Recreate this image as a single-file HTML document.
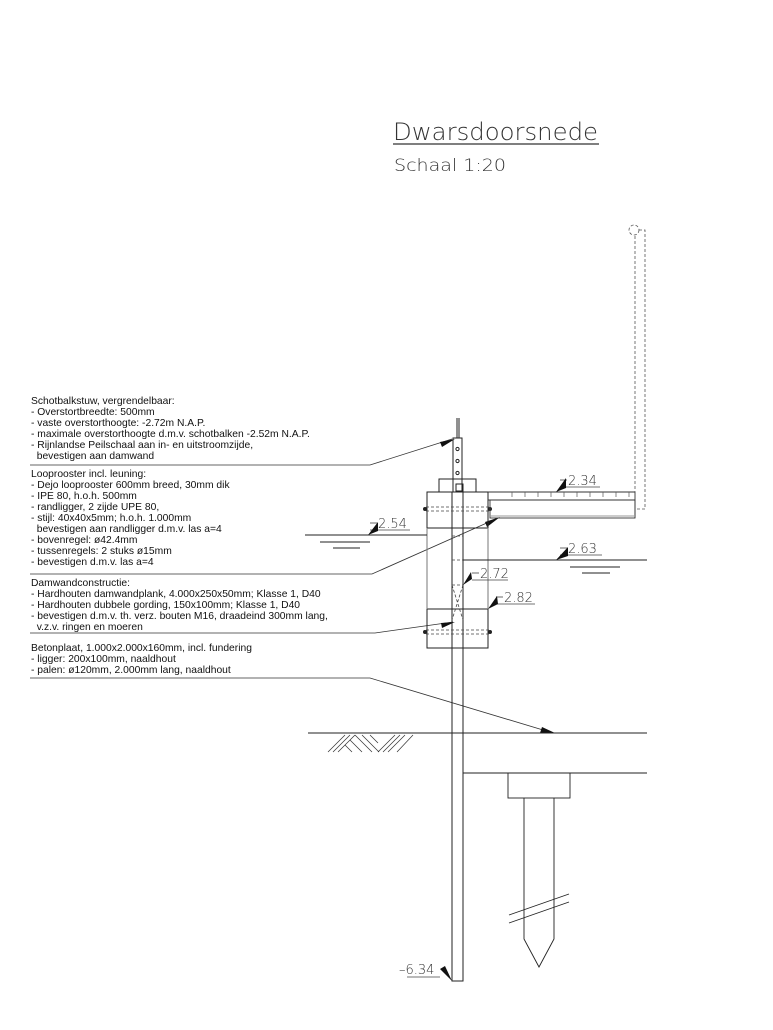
<!DOCTYPE html>
<html><head><meta charset="utf-8"><style>
html,body{margin:0;padding:0;background:#fff}
svg{display:block}
.t{font-family:"Liberation Sans",sans-serif;font-size:10.3px;fill:#111}
.c{font-family:"DejaVu Sans","Liberation Sans",sans-serif;fill:#333;font-weight:300}
</style></head><body>
<svg width="773" height="1030" viewBox="0 0 773 1030" xmlns="http://www.w3.org/2000/svg">
<text class="c" x="393" y="140" font-size="24" textLength="205" lengthAdjust="spacingAndGlyphs">Dwarsdoorsnede</text>
<line x1="393" y1="144" x2="599" y2="144" stroke="#333" stroke-width="1.2"/>
<text class="c" x="394" y="171" font-size="17" textLength="112" lengthAdjust="spacingAndGlyphs">Schaal 1:20</text>

<g class="t">
<text x="31" y="404">Schotbalkstuw, vergrendelbaar:</text>
<text x="31" y="415">- Overstortbreedte: 500mm</text>
<text x="31" y="426">- vaste overstorthoogte: -2.72m N.A.P.</text>
<text x="31" y="437">- maximale overstorthoogte d.m.v. schotbalken -2.52m N.A.P.</text>
<text x="31" y="448">- Rijnlandse Peilschaal aan in- en uitstroomzijde,</text>
<text x="31" y="459">&#160;&#160;bevestigen aan damwand</text>
<text x="31" y="477">Looprooster incl. leuning:</text>
<text x="31" y="488">- Dejo looprooster 600mm breed, 30mm dik</text>
<text x="31" y="499">- IPE 80, h.o.h. 500mm</text>
<text x="31" y="510">- randligger, 2 zijde UPE 80,</text>
<text x="31" y="521">- stijl: 40x40x5mm; h.o.h. 1.000mm</text>
<text x="31" y="532">&#160;&#160;bevestigen aan randligger d.m.v. las a=4</text>
<text x="31" y="543">- bovenregel: ø42.4mm</text>
<text x="31" y="554">- tussenregels: 2 stuks ø15mm</text>
<text x="31" y="565">- bevestigen d.m.v. las a=4</text>
<text x="31" y="586">Damwandconstructie:</text>
<text x="31" y="597">- Hardhouten damwandplank, 4.000x250x50mm; Klasse 1, D40</text>
<text x="31" y="608">- Hardhouten dubbele gording, 150x100mm; Klasse 1, D40</text>
<text x="31" y="619">- bevestigen d.m.v. th. verz. bouten M16, draadeind 300mm lang,</text>
<text x="31" y="630">&#160;&#160;v.z.v. ringen en moeren</text>
<text x="31" y="651">Betonplaat, 1.000x2.000x160mm, incl. fundering</text>
<text x="31" y="662">- ligger: 200x100mm, naaldhout</text>
<text x="31" y="673">- palen: ø120mm, 2.000mm lang, naaldhout</text>
</g>

<g fill="none" stroke="#333" stroke-width="0.8">
<polyline points="30,465 370,465 452,439"/>
<polyline points="30,574 372,574 498,518"/>
<polyline points="30,633 375,633 453,622"/>
<polyline points="30,678 370,678 553,733"/>
</g>
<g fill="#111">
<polygon points="455,439 442,447 440,442"/>
<polygon points="500,517 487,527 485,522"/>
<polygon points="455,622 442,628 441,623"/>
<polygon points="555,733 540,733 542,727"/>
</g>

<g fill="none" stroke="#222" stroke-width="1">
<rect x="452" y="492" width="11" height="489"/>
<line x1="457" y1="418" x2="457" y2="438"/>
<line x1="459" y1="418" x2="459" y2="438"/>
<rect x="453" y="438" width="9" height="54"/>
<circle cx="457.5" cy="449" r="1.6"/><circle cx="457.5" cy="461" r="1.6"/><circle cx="457.5" cy="473" r="1.6"/>
<rect x="439" y="479" width="37" height="13"/>
<rect x="456" y="484" width="7" height="7"/>
<rect x="427" y="492" width="61" height="36"/>
<rect x="427" y="609" width="61" height="39"/>
<line x1="427" y1="528" x2="427" y2="609" stroke="#777"/>
<line x1="488" y1="528" x2="488" y2="609" stroke="#777"/>
</g>
<g fill="none" stroke="#444" stroke-width="0.8" stroke-dasharray="3,2">
<line x1="426" y1="507" x2="490" y2="507"/><line x1="426" y1="511" x2="490" y2="511"/>
<line x1="426" y1="630" x2="490" y2="630"/><line x1="426" y1="634" x2="490" y2="634"/>
<line x1="452" y1="536" x2="463" y2="536"/><line x1="452" y1="560" x2="463" y2="560"/>
<line x1="452" y1="585" x2="463" y2="585"/>
<line x1="452" y1="585" x2="463" y2="620"/><line x1="463" y1="585" x2="452" y2="620"/>
</g>
<g fill="#222"><circle cx="425" cy="509" r="2"/><circle cx="490" cy="509" r="2"/><circle cx="425" cy="632" r="2"/><circle cx="490" cy="632" r="2"/></g>

<g fill="none" stroke="#333" stroke-width="0.9">
<line x1="488" y1="492" x2="635" y2="492"/>
<line x1="488" y1="500" x2="635" y2="500"/>
<line x1="635" y1="492" x2="635" y2="518"/>
<rect x="490" y="500" width="145" height="18"/>
<line x1="490" y1="516" x2="635" y2="516" stroke="#999"/>
</g>
<g stroke="#555" stroke-width="0.7">
<line x1="512" y1="492" x2="512" y2="497"/><line x1="525" y1="492" x2="525" y2="497"/><line x1="538" y1="492" x2="538" y2="497"/><line x1="551" y1="492" x2="551" y2="497"/><line x1="564" y1="492" x2="564" y2="497"/><line x1="577" y1="492" x2="577" y2="497"/><line x1="590" y1="492" x2="590" y2="497"/><line x1="603" y1="492" x2="603" y2="497"/><line x1="616" y1="492" x2="616" y2="497"/><line x1="629" y1="492" x2="629" y2="497"/>
</g>
<g fill="none" stroke="#555" stroke-width="0.8" stroke-dasharray="3,2">
<line x1="635" y1="236" x2="635" y2="492"/>
<polyline points="639,230 645,230 645,509 635,509"/>
<circle cx="634" cy="230" r="5"/>
</g>

<g stroke="#222" stroke-width="0.9">
<line x1="305" y1="535" x2="427" y2="535"/>
<line x1="320" y1="542" x2="370" y2="542"/><line x1="333" y1="548" x2="360" y2="548"/>
<line x1="463" y1="560" x2="647" y2="560"/>
<line x1="570" y1="567" x2="620" y2="567"/><line x1="582" y1="573" x2="610" y2="573"/>
<line x1="308" y1="733" x2="647" y2="733"/>
<line x1="463" y1="773" x2="647" y2="773"/>
</g>
<g stroke="#333" stroke-width="0.7">
<line x1="328" y1="752" x2="345" y2="735"/><line x1="333" y1="752" x2="350" y2="735"/><line x1="338" y1="752" x2="355" y2="735"/>
<line x1="345" y1="745" x2="352" y2="752"/><line x1="350" y1="740" x2="362" y2="752"/><line x1="355" y1="735" x2="372" y2="752"/><line x1="362" y1="735" x2="379" y2="752"/>
<line x1="378" y1="752" x2="395" y2="735"/><line x1="383" y1="752" x2="400" y2="735"/>
<line x1="388" y1="752" x2="405" y2="735"/><line x1="397" y1="752" x2="413" y2="735"/><line x1="370" y1="735" x2="378" y2="743"/>
</g>
<g fill="none" stroke="#222" stroke-width="0.9">
<rect x="508" y="773" width="62" height="25"/>
<polyline points="524,798 524,939 539,967 554,939 554,798"/>
<line x1="509" y1="915" x2="569" y2="894"/>
<line x1="509" y1="923" x2="569" y2="902"/>
</g>
<g class="c" font-size="13">
<text x="568" y="485">2.34</text>
<text x="568" y="553">2.63</text>
<text x="480" y="578">2.72</text>
<text x="504" y="602">2.82</text>
<text x="378" y="528">2.54</text>
<text x="399" y="974">–6.34</text>
</g>
<g stroke="#444" stroke-width="0.8">
<line x1="560" y1="480" x2="567" y2="480"/><line x1="560" y1="487" x2="600" y2="487"/>
<line x1="560" y1="548" x2="567" y2="548"/><line x1="560" y1="555" x2="602" y2="555"/>
<line x1="472" y1="573" x2="479" y2="573"/><line x1="472" y1="580" x2="508" y2="580"/>
<line x1="496" y1="597" x2="503" y2="597"/><line x1="496" y1="604" x2="535" y2="604"/>
<line x1="370" y1="523" x2="377" y2="523"/><line x1="370" y1="530" x2="410" y2="530"/>
<line x1="407" y1="977" x2="440" y2="977"/>
</g>
<g fill="#111">
<polygon points="556,492 566,478 566,488"/>
<polygon points="556,560 568,547 568,556"/>
<polygon points="463,585 471,572 472,579"/>
<polygon points="488,609 497,596 498,604"/>
<polygon points="368,535 378,522 378,531"/>
<polygon points="452,981 440,969 445,966"/>
</g>
</svg>
</body></html>
